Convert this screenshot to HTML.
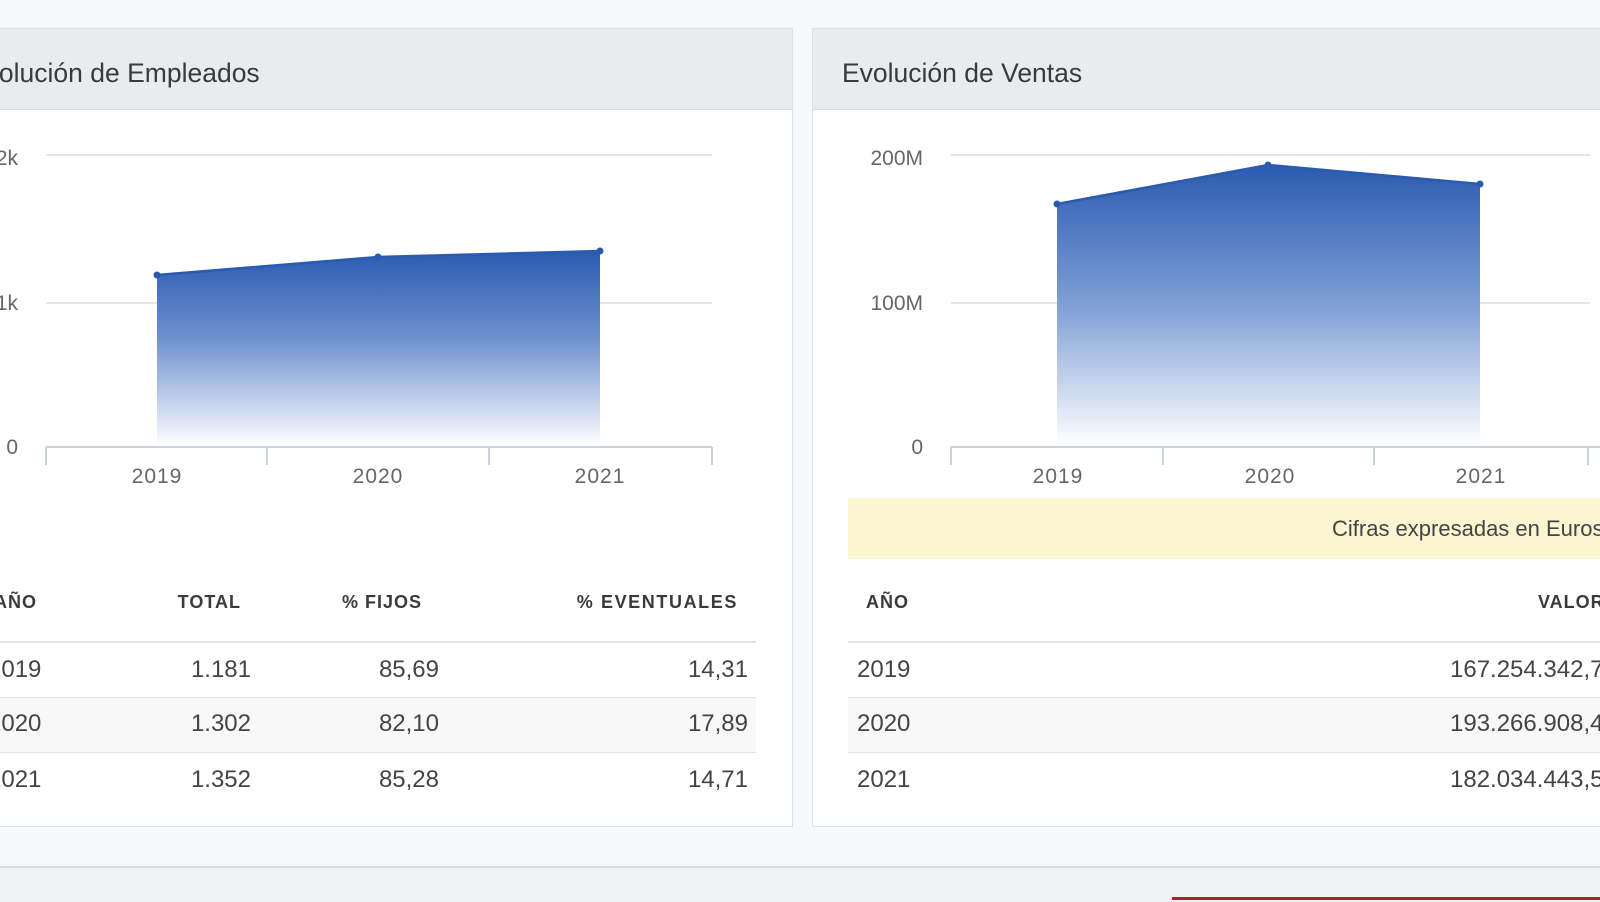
<!DOCTYPE html>
<html><head><meta charset="utf-8"><style>
body{margin:0;width:1600px;height:900px;overflow:hidden;background:#f7f8f9;font-family:"Liberation Sans",Arial,sans-serif;position:relative}
.panel{position:absolute;top:28px;height:797px;background:#fff;border:1px solid #dcdfe3}
.hdr{position:absolute;left:0;right:0;top:0;height:80px;background:#e9ecef;border-bottom:1px solid #d6d9dd}
.hdr span{position:absolute;top:29px;font-size:26.5px;color:#3a3a3a;white-space:nowrap}
.t{position:absolute;white-space:nowrap;color:#333}
.th{font-weight:bold;font-size:18px;letter-spacing:1px;color:#3a3a3a}
.td{font-size:24px;color:#444}
.line{position:absolute;height:1px;background:#e0e3e6}
.row2{position:absolute;height:54px;background:#f8f8f8}
</style></head><body>
<div class="panel" style="left:-20px;width:811px"><div class="hdr"><span style="left:-13px">Evolución de Empleados</span></div></div>
<div class="panel" style="left:812px;width:820px"><div class="hdr"><span style="left:29px">Evolución de Ventas</span></div></div>

<svg width="1600" height="900" style="position:absolute;left:0;top:0" font-family="Liberation Sans, Arial, sans-serif">
<defs>
<linearGradient id="g" x1="0" y1="0" x2="0" y2="1"><stop offset="0" stop-color="#2a5bb0"/><stop offset="0.45" stop-color="#6e91cf"/><stop offset="1" stop-color="#ffffff"/></linearGradient>
<linearGradient id="g2" x1="0" y1="0" x2="0" y2="1"><stop offset="0" stop-color="#2a5bb0"/><stop offset="0.5" stop-color="#7f9fd6"/><stop offset="1" stop-color="#ffffff"/></linearGradient>
</defs>
<g stroke="#e6e6e6" stroke-width="2"><line x1="46" y1="155" x2="712" y2="155"/><line x1="46" y1="303" x2="712" y2="303"/></g>
<path d="M157 275 L378 257 L600 251 L600 446 L157 446 Z" fill="url(#g)"/>
<polyline points="157,275 378,257 600,251" fill="none" stroke="#2a5bb0" stroke-width="2.5"/>
<g fill="#2a5bb0"><circle cx="157" cy="275" r="3.5"/><circle cx="378" cy="257" r="3.5"/><circle cx="600" cy="251" r="3.5"/></g>
<g stroke="#ccd2db" stroke-width="2"><line x1="46" y1="447" x2="712" y2="447"/><line x1="46" y1="447" x2="46" y2="465"/><line x1="267" y1="447" x2="267" y2="465"/><line x1="489" y1="447" x2="489" y2="465"/><line x1="712" y1="447" x2="712" y2="465"/></g>
<g fill="#666" font-size="21" text-anchor="end"><text x="18" y="165">2k</text><text x="18" y="310">1k</text><text x="18" y="454">0</text></g>
<g fill="#666" font-size="21" text-anchor="middle" letter-spacing="1"><text x="157" y="483">2019</text><text x="378" y="483">2020</text><text x="600" y="483">2021</text></g>
<g stroke="#e6e6e6" stroke-width="2"><line x1="951" y1="155" x2="1590" y2="155"/><line x1="951" y1="303" x2="1590" y2="303"/></g>
<path d="M1057 204 L1268 165 L1480 184 L1480 446 L1057 446 Z" fill="url(#g2)"/>
<polyline points="1057,204 1268,165 1480,184" fill="none" stroke="#2a5bb0" stroke-width="2.5"/>
<g fill="#2a5bb0"><circle cx="1057" cy="204" r="3.5"/><circle cx="1268" cy="165" r="3.5"/><circle cx="1480" cy="184" r="3.5"/></g>
<g stroke="#ccd2db" stroke-width="2"><line x1="951" y1="447" x2="1600" y2="447"/><line x1="951" y1="447" x2="951" y2="465"/><line x1="1163" y1="447" x2="1163" y2="465"/><line x1="1374" y1="447" x2="1374" y2="465"/><line x1="1588" y1="447" x2="1588" y2="465"/></g>
<g fill="#666" font-size="21" text-anchor="end"><text x="923" y="165">200M</text><text x="923" y="310">100M</text><text x="923" y="454">0</text></g>
<g fill="#666" font-size="21" text-anchor="middle" letter-spacing="1"><text x="1058" y="483">2019</text><text x="1270" y="483">2020</text><text x="1481" y="483">2021</text></g>
</svg>

<div style="position:absolute;left:848px;top:498px;width:760px;height:61px;background:#fcf5d2"></div>
<div class="t" style="left:1332px;top:516px;font-size:22px;color:#444">Cifras expresadas en Euros</div>

<div class="row2" style="left:0;top:698px;width:756px"></div>
<div class="line" style="left:0;top:641px;width:756px;height:2px"></div>
<div class="line" style="left:0;top:697px;width:756px"></div>
<div class="line" style="left:0;top:752px;width:756px"></div>
<div class="t th" style="left:-6px;top:592px">AÑO</div>
<div class="t th" style="right:1359px;top:592px">TOTAL</div>
<div class="t th" style="left:342px;top:592px">% FIJOS</div>
<div class="t th" style="right:862px;top:592px;letter-spacing:1.6px">% EVENTUALES</div>
<div class="t td" style="left:-12px;top:656px">2019</div><div class="t td" style="right:1349px;top:656px">1.181</div><div class="t td" style="right:1161px;top:656px">85,69</div><div class="t td" style="right:852px;top:656px">14,31</div>
<div class="t td" style="left:-12px;top:710px">2020</div><div class="t td" style="right:1349px;top:710px">1.302</div><div class="t td" style="right:1161px;top:710px">82,10</div><div class="t td" style="right:852px;top:710px">17,89</div>
<div class="t td" style="left:-12px;top:766px">2021</div><div class="t td" style="right:1349px;top:766px">1.352</div><div class="t td" style="right:1161px;top:766px">85,28</div><div class="t td" style="right:852px;top:766px">14,71</div>

<div class="row2" style="left:848px;top:698px;width:760px"></div>
<div class="line" style="left:848px;top:641px;width:760px;height:2px"></div>
<div class="line" style="left:848px;top:697px;width:760px"></div>
<div class="line" style="left:848px;top:752px;width:760px"></div>
<div class="t th" style="left:866px;top:592px">AÑO</div>
<div class="t th" style="left:1538px;top:592px">VALOR</div>
<div class="t td" style="left:857px;top:656px">2019</div><div class="t td" style="left:1450px;top:656px">167.254.342,76</div>
<div class="t td" style="left:857px;top:710px">2020</div><div class="t td" style="left:1450px;top:710px">193.266.908,41</div>
<div class="t td" style="left:857px;top:766px">2021</div><div class="t td" style="left:1450px;top:766px">182.034.443,52</div>

<div style="position:absolute;left:0;top:866px;width:1600px;height:34px;background:#f1f2f4;border-top:2px solid #d9dce0"></div>
<div style="position:absolute;left:1172px;top:897px;width:428px;height:3px;background:#b0202c"></div>
</body></html>
